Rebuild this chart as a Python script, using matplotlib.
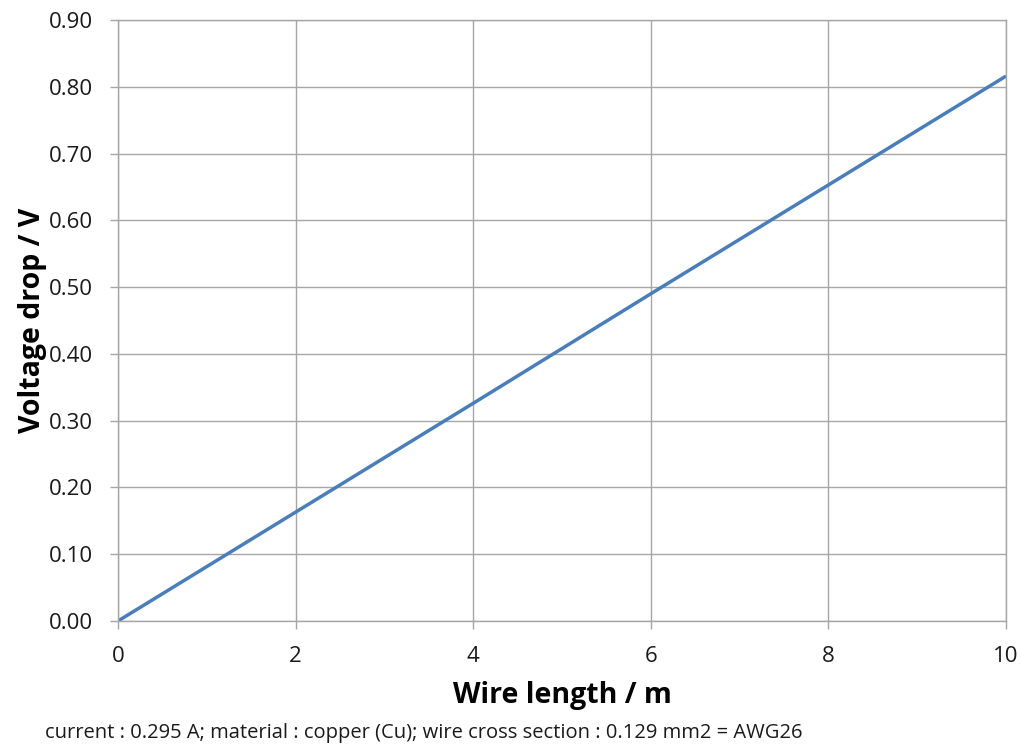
import numpy as np
import matplotlib.pyplot as plt

plt.rcParams['font.family'] = ['Open Sans', 'DejaVu Sans']

# wire length (m) and voltage drop (V)
length = [0, 2, 4, 6, 8, 10]
drop = [0.0, 0.163, 0.326, 0.490, 0.653, 0.816]

xticks = [0, 2, 4, 6, 8, 10]
yticks = np.arange(0, 0.91, 0.10)
grid_color = '#a6a6a6'

fig = plt.figure(figsize=(10.21, 7.47), dpi=100)
ax = fig.add_axes([118/1021, 1 - 621/747, (1006-118)/1021, (621-20)/747])

ax.plot(length, drop, color='#4a7ebb', linewidth=2.5, solid_capstyle='butt')

ax.set_xlim(0, 10)
ax.set_ylim(0, 0.9)
ax.set_xticks(xticks)
ax.set_yticks(yticks)
ax.set_yticklabels(['%.2f' % v for v in yticks])
ax.grid(color=grid_color, linewidth=1.0)
ax.set_axisbelow(True)
for s in ax.spines.values():
    s.set_color(grid_color)
    s.set_linewidth(1.0)
ax.tick_params(direction='out', length=6, width=1.0, color=grid_color,
               labelsize=16, labelcolor='#1a1a1a')
ax.tick_params(axis='y', pad=12)
ax.tick_params(axis='x', pad=12)

ax.set_xlabel('Wire length / m', fontsize=20.5, fontweight='bold', labelpad=10)
ax.set_ylabel('Voltage drop / V', fontsize=20.5, fontweight='bold', labelpad=1)

fig.text(45/1021, 1 - 733/747,
         'current : 0.295 A; material : copper (Cu); wire cross section : 0.129 mm2 = AWG26',
         fontsize=14.5, ha='left', va='center', color='#1a1a1a')

fig.savefig('out.png', dpi=100)
